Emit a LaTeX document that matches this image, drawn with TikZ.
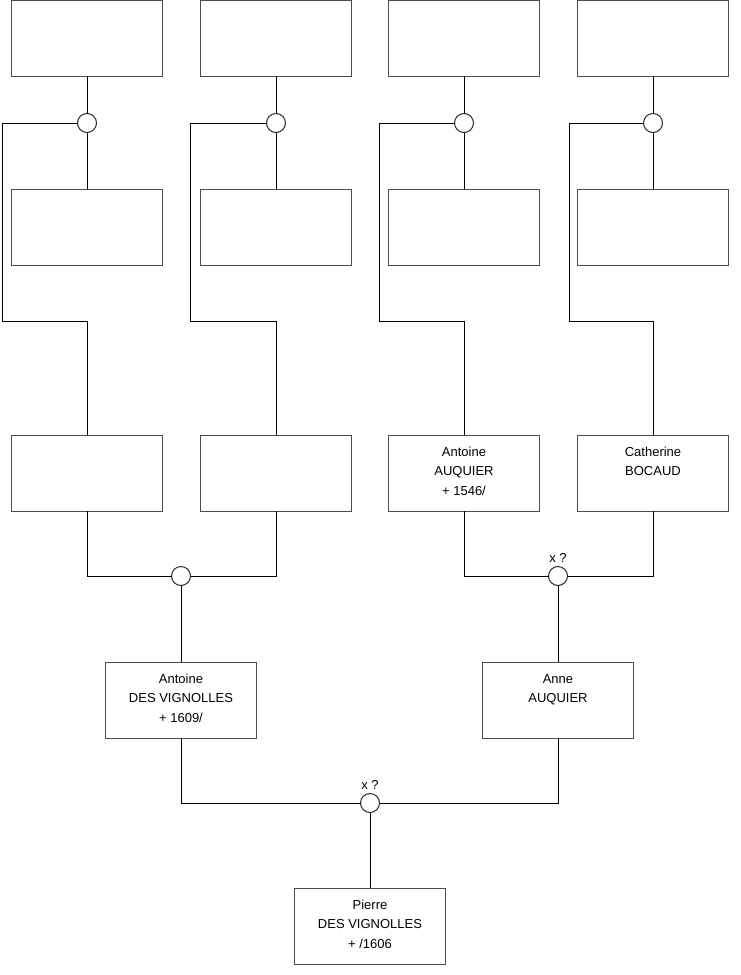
\documentclass[tikz,border=0pt]{standalone}
\usepackage{fontspec}
\setmainfont{Liberation Sans}
\usetikzlibrary{positioning}

\begin{document}
\begin{tikzpicture}[x=0.75pt,y=0.75pt,yscale=-1,xscale=1,
	person/.style={draw=black!70,line width=0.75pt,fill=white,minimum width=113.25pt,minimum height=57pt,inner sep=0pt,outer sep=0pt},
	union/.style={circle,draw=black!85,line width=0.75pt,fill=white,minimum size=14.25pt,inner sep=0pt,outer sep=0pt},
	link/.style={draw=black,line width=0.75pt},
	persontext/.style={anchor=north,inner sep=0pt,align=center,font=\fontsize{9.75}{14.5}\selectfont},
	every label/.style={font=\fontsize{9.75}{11}\selectfont,inner sep=2.5pt}]
	\useasboundingbox (0,0) rectangle (740,975);
	
	%Shape: Rectangle (top row)
	\node [person] (t1) at (87,38) {};
	\node [person] (t2) at (276,38) {};
	\node [person] (t3) at (464,38) {};
	\node [person] (t4) at (653,38) {};
	%Shape: Circle (top unions)
	\node [union] (u1) at (87,123) {};
	\node [union] (u2) at (276,123) {};
	\node [union] (u3) at (464,123) {};
	\node [union] (u4) at (653,123) {};
	%Shape: Rectangle (second row)
	\node [person] (s1) at (87,227) {};
	\node [person] (s2) at (276,227) {};
	\node [person] (s3) at (464,227) {};
	\node [person] (s4) at (653,227) {};
	%Shape: Rectangle (grand parents)
	\node [person] (m1) at (87,473) {};
	\node [person] (m2) at (276,473) {};
	\node [person] (m3) at (464,473) {};
	\node [person] (m4) at (653,473) {};
	%Shape: Circle (grand parents unions)
	\node [union] (u5) at (181,576) {};
	\node [union,label=above:{x ?}] (u6) at (558,576) {};
	%Shape: Rectangle (parents)
	\node [person] (f) at (181,700) {};
	\node [person] (a) at (558,700) {};
	%Shape: Circle (parents union)
	\node [union,label=above:{x ?}] (u7) at (370,803) {};
	%Shape: Rectangle (child)
	\node [person] (p) at (370,926) {};
	
	%Corners of the side lines
	\coordinate (k1) at (2,321);
	\coordinate (k2) at (190,321);
	\coordinate (k3) at (379,321);
	\coordinate (k4) at (569,321);
	
	%Straight Lines (top unions)
	\draw [link] (t1.south) -- (u1.north) (u1.south) -- (s1.north);
	\draw [link] (t2.south) -- (u2.north) (u2.south) -- (s2.north);
	\draw [link] (t3.south) -- (u3.north) (u3.south) -- (s3.north);
	\draw [link] (t4.south) -- (u4.north) (u4.south) -- (s4.north);
	%Straight Lines (side lines down to the children)
	\draw [link] (u1.west) -| (k1) -| (m1.north);
	\draw [link] (u2.west) -| (k2) -| (m2.north);
	\draw [link] (u3.west) -| (k3) -| (m3.north);
	\draw [link] (u4.west) -| (k4) -| (m4.north);
	%Straight Lines (lower unions)
	\draw [link] (m1.south) |- (u5.west) (m2.south) |- (u5.east) (u5.south) -- (f.north);
	\draw [link] (m3.south) |- (u6.west) (m4.south) |- (u6.east) (u6.south) -- (a.north);
	\draw [link] (f.south) |- (u7.west) (a.south) |- (u7.east) (u7.south) -- (p.north);
	
	% Text Node
	\node [persontext] (m3t) at ([yshift=5.7pt]m3.north) {\strut Antoine\\AUQUIER\\+ 1546/};
	% Text Node
	\node [persontext] (m4t) at ([yshift=5.7pt]m4.north) {\strut Catherine\\BOCAUD};
	% Text Node
	\node [persontext] (ft) at ([yshift=5.7pt]f.north) {\strut Antoine\\DES VIGNOLLES\\+ 1609/};
	% Text Node
	\node [persontext] (at) at ([yshift=5.7pt]a.north) {\strut Anne\\AUQUIER};
	% Text Node
	\node [persontext] (pt) at ([yshift=5.7pt]p.north) {\strut Pierre\\DES VIGNOLLES\\+ /1606};
	
\end{tikzpicture}
\end{document}
